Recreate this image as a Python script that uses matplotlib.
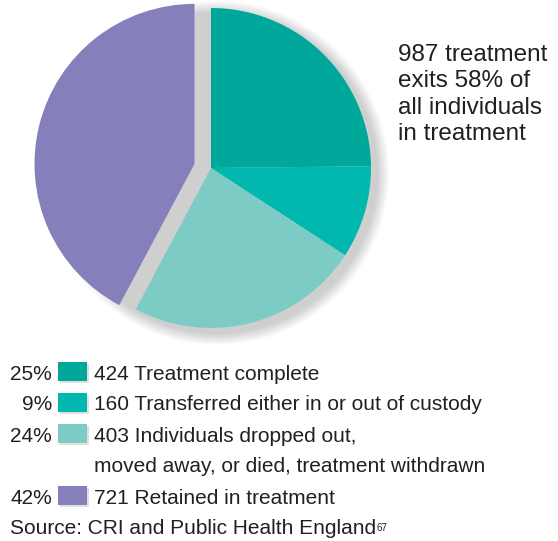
"""Treatment exits pie chart with legend."""

import matplotlib.pyplot as plt
from matplotlib.patches import Rectangle, Circle

plt.rcParams["font.family"] = ["Liberation Sans", "DejaVu Sans"]

counts = [424, 160, 403, 721]
labels = [
    "Treatment complete",
    "Transferred either in or out of custody",
    "Individuals dropped out,\nmoved away, or died, treatment withdrawn",
    "Retained in treatment",
]
colors = ["#00A89B", "#00B8AE", "#7DCBC5", "#857FBC"]
explode = [0, 0, 0, 17]
exits_note = "987 treatment\nexits 58% of\nall individuals\nin treatment"
source = "Source: CRI and Public Health England"

W, H = 558, 541
fig = plt.figure(figsize=(W / 100, H / 100), dpi=100)
ax = fig.add_axes([0, 0, 1, 1])

cx, cy, r = 211, H - 168, 160

# soft drop shadow behind the pie
for i in range(12):
    ax.add_patch(Circle((cx + 6, cy - 5), r + 12 - i, color="#000000", alpha=0.014, lw=0, zorder=0))

ax.pie(counts, colors=colors, explode=explode, startangle=90, counterclock=False,
       center=(cx, cy), radius=r, frame=True, wedgeprops={"linewidth": 0})
ax.set_xlim(0, W)
ax.set_ylim(0, H)
ax.set_aspect("equal")
ax.axis("off")

ax.text(398, H - 44, exits_note, fontsize=17.5, color="#231F20", va="top", ha="left", linespacing=1.25)

total = sum(counts)
row_y = [372, 403, 434, 496]
line_gap = 31
for y, n, lab, col in zip(row_y, counts, labels, colors):
    yy = H - y
    ax.text(52, yy, f"{round(100 * n / total)}%", fontsize=15, color="#231F20", ha="right", va="center_baseline")
    ax.add_patch(Rectangle((60, yy - 11), 29, 19, color="#000000", alpha=0.12, lw=0))
    ax.add_patch(Rectangle((58, yy - 9), 29, 19, color=col, lw=0))
    for k, line in enumerate(lab.split("\n")):
        txt = f"{n} {line}" if k == 0 else line
        ax.text(94, yy - k * line_gap, txt, fontsize=15, color="#231F20", ha="left", va="center_baseline")

src = ax.text(10, H - 526, source, fontsize=15, color="#231F20", ha="left", va="center_baseline")
ax.annotate("67", xy=(1, 1), xycoords=src, xytext=(0.5, -3), textcoords="offset points",
            fontsize=7, color="#231F20", ha="left", va="top")

fig.savefig("out.png", dpi=100, facecolor="white")
plt.close(fig)
